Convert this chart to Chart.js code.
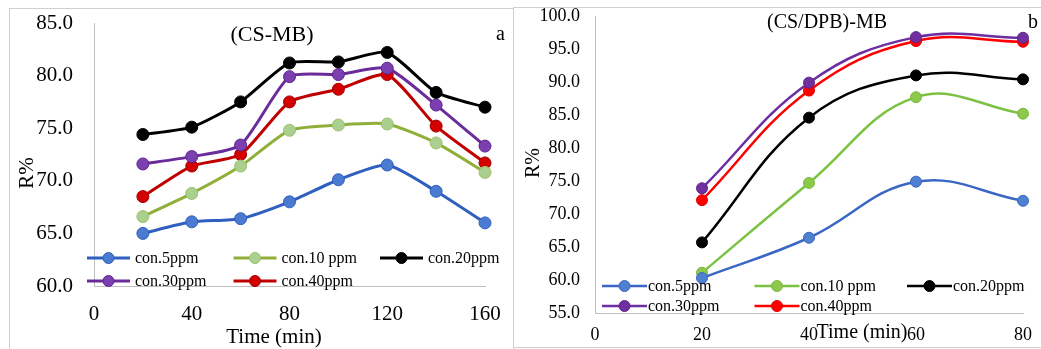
<!DOCTYPE html>
<html><head><meta charset="utf-8">
<script src="https://cdn.jsdelivr.net/npm/chart.js@4.4.1/dist/chart.umd.min.js"></script>
<style>
html,body{margin:0;padding:0;background:#fff;overflow:hidden;width:1041px;height:349px;position:relative;}
.frame{position:absolute;border:1px solid #d0d0d0;box-sizing:border-box;}
.wrap{position:absolute;top:0;height:349px;}
canvas{display:block;}
</style></head><body>
<div class="frame" style="left:9px;top:8px;width:505px;height:380px;"></div>
<div class="frame" style="left:513px;top:7px;width:560px;height:341px;"></div>
<div class="wrap" style="left:0;width:513px"><canvas id="cA" width="513" height="349" style="width:513px;height:349px"></canvas></div>
<div class="wrap" style="left:513px;width:528px"><canvas id="cB" width="528" height="349" style="width:528px;height:349px"></canvas></div>
<script>
// ---------- data ----------
const seriesNames = ['con.5ppm', 'con.10 ppm', 'con.20ppm', 'con.30ppm', 'con.40ppm'];

// Panel a: (CS-MB)
const timeA = [20, 40, 60, 80, 100, 120, 140, 160];
const a_con5  = [65.0, 66.1, 66.4, 68.0, 70.1, 71.5, 69.0, 66.0];
const a_con10 = [66.6, 68.8, 71.4, 74.8, 75.3, 75.4, 73.6, 70.8];
const a_con20 = [74.4, 75.1, 77.5, 81.2, 81.3, 82.2, 78.4, 77.0];
const a_con30 = [71.6, 72.3, 73.4, 79.9, 80.1, 80.7, 77.2, 73.3];
const a_con40 = [68.5, 71.4, 72.5, 77.5, 78.7, 80.1, 75.2, 71.7];
const xTicksA = [0, 40, 80, 120, 160];
const yTicksA = [60, 65, 70, 75, 80, 85];

// Panel b: (CS/DPB)-MB
const timeB = [20, 40, 60, 80];
const b_con5  = [60.3, 66.4, 74.9, 72.0];
const b_con10 = [61.1, 74.7, 87.7, 85.2];
const b_con20 = [65.7, 84.6, 91.0, 90.4];
const b_con30 = [73.9, 89.9, 96.8, 96.7];
const b_con40 = [72.1, 88.7, 96.2, 96.1];
const xTicksB = [0, 20, 40, 60, 80];
const yTicksB = [55, 60, 65, 70, 75, 80, 85, 90, 95, 100];

// ---------- styles ----------
const SERIF = '"Liberation Serif", "Times New Roman", serif';
const stylesA = [
  {line: '#2F5FBF', fill: '#4A7BD0', edge: '#2F5FBF'},
  {line: '#8FAF3A', fill: '#A9D08E', edge: '#9DBF6A'},
  {line: '#000000', fill: '#000000', edge: '#000000'},
  {line: '#6A2C9A', fill: '#7B3FB0', edge: '#5E2590'},
  {line: '#C00000', fill: '#D40000', edge: '#A00000'}
];
const stylesB = [
  {line: '#3A66C4', fill: '#4F81D0', edge: '#3A66C4'},
  {line: '#7CC242', fill: '#8CC84B', edge: '#7CB83E'},
  {line: '#000000', fill: '#000000', edge: '#000000'},
  {line: '#6C2EA0', fill: '#7030A0', edge: '#5E2590'},
  {line: '#FF0000', fill: '#FF0000', edge: '#E00000'}
];

function buildDatasets(times, series, styles, tension, radius, width) {
  return series.map((vals, i) => ({
    label: seriesNames[i],
    data: vals.map((v, j) => ({x: times[j], y: v})),
    borderColor: styles[i].line,
    backgroundColor: styles[i].fill,
    pointBackgroundColor: styles[i].fill,
    pointBorderColor: styles[i].edge,
    pointBorderWidth: 1,
    pointRadius: radius,
    borderWidth: width,
    tension: tension,
    clip: false
  }));
}

// decoration plugin: title, panel letter, axis titles and Excel-like legend
const decoPlugin = {
  id: 'deco',
  afterDatasetsDraw(chart, args, o) {
    const ctx = chart.ctx;
    ctx.save();
    ctx.fillStyle = '#000';
    ctx.textBaseline = 'middle';
    ctx.font = o.titleSize + 'px ' + SERIF;
    ctx.textAlign = 'center';
    ctx.fillText(o.title, o.titlePos[0], o.titlePos[1]);
    ctx.font = o.letterSize + 'px ' + SERIF;
    ctx.textAlign = 'left';
    ctx.fillText(o.letter, o.letterPos[0], o.letterPos[1]);
    ctx.font = o.axisSize + 'px ' + SERIF;
    ctx.textAlign = 'center';
    ctx.fillText(o.xTitle, o.xTitlePos[0], o.xTitlePos[1]);
    ctx.save();
    ctx.translate(o.yTitlePos[0], o.yTitlePos[1]);
    ctx.rotate(-Math.PI / 2);
    ctx.fillText(o.yTitle, 0, 0);
    ctx.restore();
    const L = o.legend;
    ctx.font = L.size + 'px ' + SERIF;
    ctx.textAlign = 'left';
    chart.data.datasets.forEach((ds, i) => {
      const col = i % 3, row = Math.floor(i / 3);
      const x = L.x0 + col * L.colW;
      const y = L.rows[row];
      ctx.strokeStyle = ds.borderColor;
      ctx.lineWidth = ds.borderWidth;
      ctx.beginPath();
      ctx.moveTo(x, y);
      ctx.lineTo(x + L.lineLen, y);
      ctx.stroke();
      ctx.beginPath();
      ctx.arc(x + L.lineLen / 2, y, L.r, 0, Math.PI * 2);
      ctx.fillStyle = ds.pointBackgroundColor;
      ctx.fill();
      ctx.lineWidth = 1;
      ctx.strokeStyle = ds.pointBorderColor;
      ctx.stroke();
      ctx.fillStyle = '#000';
      ctx.fillText(ds.label, x + L.textOff, y + 1);
    });
    ctx.restore();
  }
};

function makeChart(id, cfg) {
  return new Chart(document.getElementById(id), {
    type: 'line',
    data: {datasets: cfg.datasets},
    plugins: [decoPlugin],
    options: {
      responsive: false,
      animation: false,
      devicePixelRatio: 1,
      layout: {padding: cfg.padding},
      plugins: {
        legend: {display: false},
        tooltip: {enabled: false},
        deco: cfg.deco
      },
      scales: {
        x: {
          type: 'linear',
          min: cfg.xTicks[0], max: cfg.xTicks[cfg.xTicks.length - 1],
          afterBuildTicks: s => { s.ticks = cfg.xTicks.map(v => ({value: v})); },
          afterFit: s => { s.height = cfg.xH; },
          grid: {display: false, drawTicks: true, tickLength: cfg.xTL},
          border: {display: true, color: '#bfbfbf', width: 1},
          ticks: {
            color: '#000', padding: 1, maxRotation: 0, autoSkip: false,
            font: {family: SERIF, size: cfg.tickSize},
            callback: v => String(v)
          }
        },
        y: {
          min: cfg.yTicks[0], max: cfg.yTicks[cfg.yTicks.length - 1],
          afterBuildTicks: s => { s.ticks = cfg.yTicks.map(v => ({value: v})); },
          afterFit: s => { s.width = cfg.yW; },
          grid: {display: false, drawTicks: true, tickLength: cfg.yTL},
          border: {display: true, color: '#bfbfbf', width: 1},
          ticks: {
            color: '#000', padding: 1, autoSkip: false,
            font: {family: SERIF, size: cfg.tickSize},
            callback: v => Number(v).toFixed(1)
          }
        }
      }
    }
  });
}

makeChart('cA', {
  datasets: buildDatasets(timeA, [a_con5, a_con10, a_con20, a_con30, a_con40], stylesA, 0.2, 6, 3),
  xTicks: xTicksA, yTicks: yTicksA,
  padding: {left: 0, right: 28, top: 23, bottom: 0},
  xH: 63, yW: 94, xTL: 15, yTL: 20, tickSize: 21,
  deco: {
    title: '(CS-MB)', titlePos: [272, 35], titleSize: 22,
    letter: 'a', letterPos: [496, 35], letterSize: 20,
    xTitle: 'Time (min)', xTitlePos: [274, 337],
    yTitle: 'R%', yTitlePos: [27, 173], axisSize: 21,
    legend: {x0: 87, colW: 146.5, lineLen: 43, textOff: 48, rows: [258, 281], size: 16, r: 5.5}
  }
});

makeChart('cB', {
  datasets: buildDatasets(timeB, [b_con5, b_con10, b_con20, b_con30, b_con40], stylesB, 0.4, 5.5, 2.5),
  xTicks: xTicksB, yTicks: yTicksB,
  padding: {left: 0, right: 18, top: 16, bottom: 0},
  xH: 36, yW: 82, xTL: 10, yTL: 14, tickSize: 18,
  deco: {
    title: '(CS/DPB)-MB', titlePos: [314, 23], titleSize: 20,
    letter: 'b', letterPos: [515, 23], letterSize: 20,
    xTitle: 'Time (min)', xTitlePos: [349, 333],
    yTitle: 'R%', yTitlePos: [21, 163], axisSize: 20,
    legend: {x0: 89, colW: 152.5, lineLen: 45, textOff: 46, rows: [286, 306], size: 16, r: 5.5}
  }
});
</script>
</body></html>
